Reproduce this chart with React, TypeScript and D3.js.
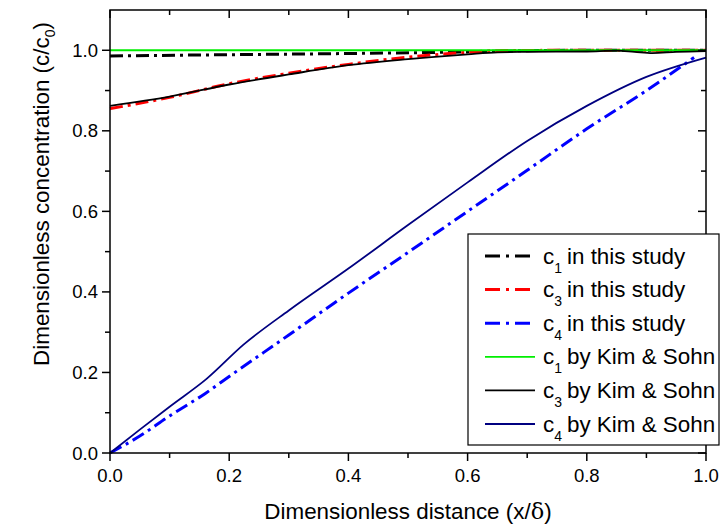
import * as d3 from "d3";
import React from "react";

// series
const c1StudyX = [0, 0.2, 0.4, 0.6, 0.7, 0.8, 1.0];
const c1StudyY = [0.986, 0.989, 0.992, 0.996, 0.999, 1.0, 1.0];

const c3StudyX = [0, 0.1, 0.2, 0.3, 0.4, 0.5, 0.6, 0.65, 0.8, 1.0];
const c3StudyY = [0.855, 0.883, 0.917, 0.943, 0.965, 0.983, 0.995, 0.999, 1.0, 1.0];

const c4StudyX = [0, 0.05, 0.1, 0.16, 0.2, 0.3, 0.4, 0.5, 0.6, 0.7, 0.8, 0.9, 0.98];
const c4StudyY = [0, 0.042, 0.092, 0.148, 0.19, 0.293, 0.397, 0.498, 0.6, 0.702, 0.805, 0.9, 0.982];

const c1KimX = [0, 1.0];
const c1KimY = [1.0, 1.0];

const c3KimX = [0, 0.1, 0.2, 0.3, 0.4, 0.5, 0.6, 0.65, 0.7, 0.8, 0.85, 0.88, 0.91, 0.95, 1.0];
const c3KimY = [0.862, 0.885, 0.915, 0.94, 0.963, 0.978, 0.99, 0.995, 0.996, 0.997, 0.999, 0.996, 0.993, 0.996, 0.998];

const c4KimX = [0, 0.05, 0.1, 0.162, 0.224, 0.3, 0.4, 0.5, 0.6, 0.7, 0.8, 0.9, 1.0];
const c4KimY = [0, 0.058, 0.115, 0.184, 0.269, 0.354, 0.458, 0.566, 0.672, 0.775, 0.862, 0.934, 0.982];

const xTicks = [0, 0.2, 0.4, 0.6, 0.8, 1.0];
const yTicks = [0, 0.2, 0.4, 0.6, 0.8, 1.0];
const xMinor = [0.1, 0.3, 0.5, 0.7, 0.9];
const yMinor = [0.1, 0.3, 0.5, 0.7, 0.9];

const series = [
  { name: "in this study", sub: "1", xs: c1StudyX, ys: c1StudyY, color: "#000000", dashed: true },
  { name: "in this study", sub: "3", xs: c3StudyX, ys: c3StudyY, color: "#ff0000", dashed: true },
  { name: "in this study", sub: "4", xs: c4StudyX, ys: c4StudyY, color: "#0000ff", dashed: true },
  { name: "by Kim & Sohn", sub: "1", xs: c1KimX, ys: c1KimY, color: "#00ee00", dashed: false },
  { name: "by Kim & Sohn", sub: "3", xs: c3KimX, ys: c3KimY, color: "#000000", dashed: false },
  { name: "by Kim & Sohn", sub: "4", xs: c4KimX, ys: c4KimY, color: "#000080", dashed: false },
];

const W = 720;
const H = 528;
const margin = { top: 10, right: 14, bottom: 75, left: 110 };

export default function App() {
  const x = d3.scaleLinear().domain([0, 1]).range([margin.left, W - margin.right]);
  const y = d3.scaleLinear().domain([0, 1.1]).range([H - margin.bottom, margin.top]);
  const x0 = x(0), x1 = x(1);
  const y0 = y(0), y1 = y(1.1);

  const line = d3.line<[number, number]>().x(d => x(d[0])).y(d => y(d[1])).curve(d3.curveMonotoneX);
  const font = "Arial, 'Liberation Sans', sans-serif";
  const dash = "13,5,3,5";
  const tickFs = 18.5;
  const titleFs = 22.4;

  // legend placement
  const lg = { left: 468, top: 234, right: 719, bottom: 445, row0: 256, step: 33.6 };

  return (
    <svg width={W} height={H} style={{ position: "absolute", left: 0, top: 0, background: "#fff" }} fontFamily={font}>
      <rect width={W} height={H} fill="#fff" />
      {/* lines, drawn under the frame */}
      {series.map((s, i) => (
        <path
          key={i}
          d={line(s.xs.map((v, j) => [v, s.ys[j]] as [number, number])) || ""}
          fill="none"
          stroke={s.color}
          strokeWidth={s.dashed ? 3 : 1.8}
          strokeDasharray={s.dashed ? dash : undefined}
        />
      ))}

      {/* frame */}
      <rect x={x0} y={y1} width={x1 - x0} height={y0 - y1} fill="none" stroke="#000" strokeWidth={1.5} />

      {/* x ticks: outside at bottom, inside at top */}
      {xTicks.map(t => (
        <g key={"xt" + t}>
          <line x1={x(t)} x2={x(t)} y1={y0} y2={y0 + 8} stroke="#000" strokeWidth={1.5} />
          <line x1={x(t)} x2={x(t)} y1={y1} y2={y1 + 8} stroke="#000" strokeWidth={1.5} />
          <text x={x(t)} y={y0 + 29} textAnchor="middle" fontSize={tickFs}>{d3.format(".1f")(t)}</text>
        </g>
      ))}
      {xMinor.map(t => (
        <g key={"xm" + t}>
          <line x1={x(t)} x2={x(t)} y1={y0} y2={y0 + 5} stroke="#000" strokeWidth={1.5} />
          <line x1={x(t)} x2={x(t)} y1={y1} y2={y1 + 5} stroke="#000" strokeWidth={1.5} />
        </g>
      ))}

      {/* y ticks: outside at left, inside at right */}
      {yTicks.map(t => (
        <g key={"yt" + t}>
          <line x1={x0 - 8} x2={x0} y1={y(t)} y2={y(t)} stroke="#000" strokeWidth={1.5} />
          <line x1={x1 - 8} x2={x1} y1={y(t)} y2={y(t)} stroke="#000" strokeWidth={1.5} />
          <text x={x0 - 12} y={y(t) + 6.5} textAnchor="end" fontSize={tickFs}>{d3.format(".1f")(t)}</text>
        </g>
      ))}
      {yMinor.map(t => (
        <g key={"ym" + t}>
          <line x1={x0 - 5} x2={x0} y1={y(t)} y2={y(t)} stroke="#000" strokeWidth={1.5} />
          <line x1={x1 - 5} x2={x1} y1={y(t)} y2={y(t)} stroke="#000" strokeWidth={1.5} />
        </g>
      ))}

      {/* axis titles */}
      <text x={(x0 + x1) / 2} y={519} textAnchor="middle" fontSize={titleFs}>
        Dimensionless distance (x/<tspan fontFamily="'DejaVu Serif', serif">δ</tspan>)
      </text>
      <text transform={`translate(49, 194) rotate(-90)`} textAnchor="middle" fontSize={titleFs}>
        Dimensionless concentration (c/c<tspan fontSize={14} dy={6}>0</tspan><tspan dy={-6}>)</tspan>
      </text>

      {/* legend */}
      <rect x={lg.left} y={lg.top} width={lg.right - lg.left} height={lg.bottom - lg.top} fill="#fff" stroke="#000" strokeWidth={1.2} />
      {series.map((s, i) => {
        const cy = lg.row0 + i * lg.step;
        return (
          <g key={"lg" + i}>
            <line
              x1={485} x2={535} y1={cy} y2={cy}
              stroke={s.color}
              strokeWidth={s.dashed ? 3 : 1.8}
              strokeDasharray={s.dashed ? "15,6,3,6" : undefined}
            />
            <text x={543} y={cy + 7.5} fontSize={titleFs}>
              c<tspan fontSize={14} dy={9}>{s.sub}</tspan>
              <tspan dy={-9} dx={5}>{s.name}</tspan>
            </text>
          </g>
        );
      })}
    </svg>
  );
}
